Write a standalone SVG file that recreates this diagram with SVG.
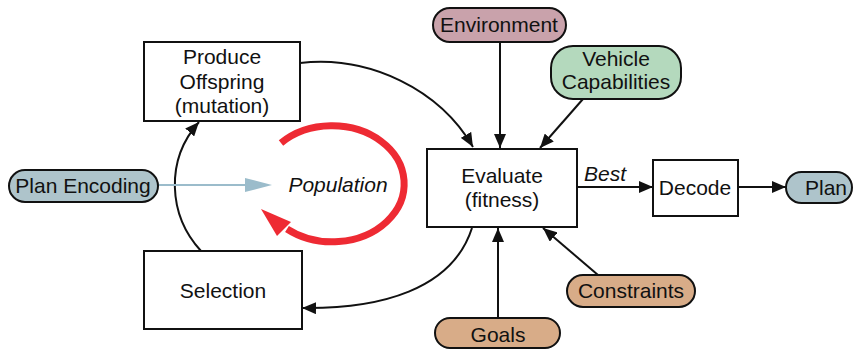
<svg xmlns="http://www.w3.org/2000/svg" width="859" height="349" viewBox="0 0 859 349">
  <defs>
    <style>
      text { font-family: "Liberation Sans", Arial, sans-serif; font-size: 21px; fill: #111; text-anchor: middle; }
      .it { font-style: italic; }
      .box { fill: #fff; stroke: #111; stroke-width: 2; }
      .pill { stroke: #111; stroke-width: 2; }
      .edge { fill: none; stroke: #111; stroke-width: 2; }
    </style>
    <marker id="ah" viewBox="0 0 14 12" refX="14" refY="6" markerWidth="14" markerHeight="12" markerUnits="userSpaceOnUse" orient="auto">
      <path d="M0,0 L14,6 L0,12 z" fill="#111"/>
    </marker>
  </defs>

  <!-- connectors -->
  <g id="connectors">
    <path class="edge" d="M300,63 C370,55 440,90 473,147" marker-end="url(#ah)"/>
    <path class="edge" d="M500,42 L500,148" marker-end="url(#ah)"/>
    <path class="edge" d="M583,99 L540,148" marker-end="url(#ah)"/>
    <path class="edge" d="M577,187 L653,187" marker-end="url(#ah)"/>
    <path class="edge" d="M738,187 L786,187" marker-end="url(#ah)"/>
    <path class="edge" d="M498,318 L498,228" marker-end="url(#ah)"/>
    <path class="edge" d="M598,275 L543,228" marker-end="url(#ah)"/>
    <path class="edge" d="M472,228 C452,290 380,309 302,308" marker-end="url(#ah)"/>
    <path class="edge" d="M201,251 C168,215 165,160 199,122" marker-end="url(#ah)"/>
    <!-- plan encoding feeds the population -->
    <line x1="158" y1="185" x2="248" y2="185" stroke="#9bbccb" stroke-width="2"/>
    <path d="M245,178 L272,185 L245,192 z" fill="#9bbccb"/>
    <!-- population cycle -->
    <path d="M281,143 A72,58 0 1 1 287,229" fill="none" stroke="#ee2a33" stroke-width="7"/>
    <path d="M261,209 L291,222 L277,236 z" fill="#ee2a33"/>
  </g>

  <g id="produce">
    <rect class="box" x="144" y="42" width="156" height="79"/>
    <text x="222" y="64">Produce</text>
    <text x="222" y="89">Offspring</text>
    <text x="222" y="113">(mutation)</text>
  </g>

  <g id="selection">
    <rect class="box" x="144" y="251" width="158" height="78"/>
    <text x="223" y="298">Selection</text>
  </g>

  <g id="population">
    <text class="it" x="338" y="192">Population</text>
  </g>

  <g id="plan-encoding">
    <rect class="pill" x="9" y="170" width="149" height="32" rx="16" fill="#aec4cb"/>
    <text x="83" y="193">Plan Encoding</text>
  </g>

  <g id="evaluate">
    <rect class="box" x="427" y="149" width="150" height="78"/>
    <text x="502" y="183">Evaluate</text>
    <text x="502" y="207">(fitness)</text>
  </g>

  <g id="best-label">
    <text class="it" x="605" y="181">Best</text>
  </g>

  <g id="decode">
    <rect class="box" x="653" y="160" width="85" height="56"/>
    <text x="695" y="195">Decode</text>
  </g>

  <g id="plan">
    <rect class="pill" x="786" y="172" width="66" height="31" rx="15.5" fill="#aec4cb"/>
    <text x="826" y="195">Plan</text>
  </g>

  <g id="environment">
    <rect class="pill" x="433" y="8" width="133" height="34" rx="17" fill="#c9a2ab"/>
    <text x="499" y="32">Environment</text>
  </g>

  <g id="vehicle">
    <rect class="pill" x="551" y="46" width="130" height="53" rx="22" fill="#b4d9bd"/>
    <text x="616" y="66">Vehicle</text>
    <text x="616" y="89">Capabilities</text>
  </g>

  <g id="constraints">
    <rect class="pill" x="567" y="275" width="128" height="32" rx="16" fill="#d8ac88"/>
    <text x="631" y="298">Constraints</text>
  </g>

  <g id="goals">
    <rect class="pill" x="435" y="318" width="125" height="30" rx="15" fill="#d8ac88"/>
    <text x="498" y="342">Goals</text>
  </g>
</svg>
